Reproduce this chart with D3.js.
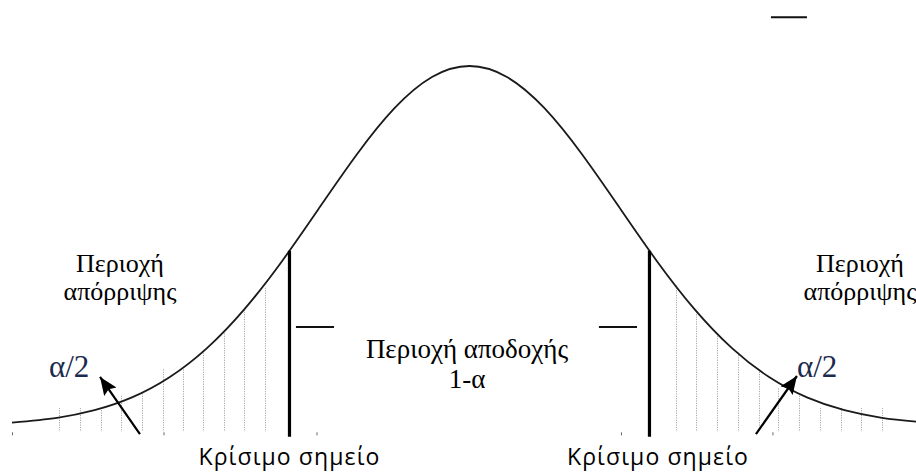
<!DOCTYPE html>
<html>
<head>
<meta charset="utf-8">
<script src="https://cdn.jsdelivr.net/npm/d3@7"></script>
<style>
  body { margin: 0; background: #fff; }
  svg { display: block; }
</style>
</head>
<body>
<svg id="chart" width="916" height="472"></svg>
<script>
// Standard normal density, sampled along z
const curveZ = [-3.05, -2.75, -2.5, -2.25, -2.0, -1.75, -1.5, -1.25, -1.0, -0.75, -0.5, -0.25,
                0, 0.25, 0.5, 0.75, 1.0, 1.25, 1.5, 1.75, 2.0, 2.25, 2.5, 2.75, 3.0];
const curveDensity = [0.0038, 0.0091, 0.0175, 0.0317, 0.0540, 0.0863, 0.1295, 0.1826, 0.2420, 0.3011, 0.3521, 0.3867,
                      0.3989, 0.3867, 0.3521, 0.3011, 0.2420, 0.1826, 0.1295, 0.0863, 0.0540, 0.0317, 0.0175, 0.0091, 0.0044];

// Critical points (two-sided test) and the density height there
const criticalZ = [-1.2, 1.2];
const criticalDensity = [0.1942, 0.1942];
const criticalFoot = -0.012;

// Hatching of the rejection regions
const leftHatchZ   = [-2.737, -2.597, -2.457, -2.323, -2.183, -2.043, -1.910, -1.777, -1.637, -1.503, -1.363];
const leftHatchTop = [0.020, 0.020, 0.020, 0.034, 0.038, 0.064, 0.064, 0.084, 0.104, 0.131, 0.154];
const rightHatchZ   = [1.377, 1.513, 1.653, 1.787, 1.927, 2.060, 2.200, 2.337, 2.477, 2.607, 2.747];
const rightHatchTop = [0.156, 0.126, 0.103, 0.082, 0.064, 0.042, 0.034, 0.020, 0.020, 0.020, 0.020];
const hatchFoot = -0.005;

// Small ticks along the base line
const tickZ = [-3.05, -2.04, -1.02, 1.01, 2.02];

// Arrows pointing at the tail areas: [tailZ, tailDensity, tipZ, tipDensity]
const arrows = [
  [-2.197, -0.0089, -2.463, 0.0543],
  [1.910, -0.0089, 2.183, 0.0554]
];

// Short marks beside the acceptance label: [z0, z1, density]
const marks = [
  [-1.157, -0.903, 0.1097],
  [0.863, 1.117, 0.1097],
  [2.010, 2.250, 0.4530]
];

// Texts
const rejectLines = ["Περιοχή", "απόρριψης"];
const acceptLines = ["Περιοχή αποδοχής", "1-α"];
const tailLabel = "α/2";
const criticalLabel = "Κρίσιμο σημείο";

const W = 916, H = 472;
const svg = d3.select("#chart");

const x = d3.scaleLinear().domain([-3.13, 2.977]).range([0, W]);
const y = d3.scaleLinear().domain([0, 0.4]).range([426, 65]);

const SERIF = "'Liberation Serif', 'Times New Roman', serif";
const SANS = "'Open Sans', 'Noto Sans', sans-serif";

// hatching
const hatch = svg.append("g").attr("stroke", "#a8a8a8").attr("stroke-width", 1)
  .attr("stroke-dasharray", "1.2,1.2");
[[leftHatchZ, leftHatchTop], [rightHatchZ, rightHatchTop]].forEach(([zs, tops]) => {
  hatch.selectAll(null).data(zs.map((z, i) => [z, tops[i]])).join("line")
    .attr("x1", d => Math.round(x(d[0])) + 0.5).attr("x2", d => Math.round(x(d[0])) + 0.5)
    .attr("y1", y(hatchFoot)).attr("y2", d => y(d[1]));
});

// base ticks
const axis = d3.axisBottom(x).tickValues(tickZ).tickSize(3).tickFormat("");
const axisG = svg.append("g").attr("transform", `translate(0,${y(-0.007)})`).call(axis);
axisG.select(".domain").remove();
axisG.selectAll(".tick line").attr("stroke", "#666");

// density curve
const line = d3.line().x(d => x(d[0])).y(d => y(d[1])).curve(d3.curveNatural);
svg.append("path")
  .datum(curveZ.map((z, i) => [z, curveDensity[i]]))
  .attr("d", line)
  .attr("fill", "none").attr("stroke", "#1a1a1a").attr("stroke-width", 1.8);

// critical lines
svg.selectAll(null).data(criticalZ.map((z, i) => [z, criticalDensity[i]])).join("line")
  .attr("x1", d => x(d[0])).attr("x2", d => x(d[0]))
  .attr("y1", y(criticalFoot)).attr("y2", d => y(d[1]))
  .attr("stroke", "#000").attr("stroke-width", 3.2);

// short marks
svg.selectAll(null).data(marks).join("line")
  .attr("x1", d => x(d[0])).attr("x2", d => x(d[1]))
  .attr("y1", d => y(d[2])).attr("y2", d => y(d[2]))
  .attr("stroke", "#111").attr("stroke-width", 2);

// arrows
svg.append("defs").append("marker")
  .attr("id", "head").attr("markerUnits", "userSpaceOnUse")
  .attr("markerWidth", 20).attr("markerHeight", 16)
  .attr("refX", 18).attr("refY", 7.5).attr("orient", "auto")
  .append("path").attr("d", "M0,0 L18,7.5 L0,15 L3,7.5 Z").attr("fill", "#000");
svg.selectAll(null).data(arrows).join("line")
  .attr("x1", d => x(d[0])).attr("y1", d => y(d[1]))
  .attr("x2", d => x(d[2])).attr("y2", d => y(d[3]))
  .attr("stroke", "#000").attr("stroke-width", 2.2)
  .attr("marker-end", "url(#head)");

// texts
function lines(xc, baselines, texts, size, font, fill) {
  texts.forEach((t, i) => {
    svg.append("text").attr("x", xc).attr("y", baselines[i])
      .attr("text-anchor", "middle").attr("font-family", font)
      .attr("font-size", size).attr("fill", fill || "#000").text(t);
  });
}
lines(120, [272, 300], rejectLines, 26, SERIF);
lines(860, [272, 300], rejectLines, 26, SERIF);
lines(467, [358, 388], acceptLines, 27, SERIF);

svg.append("text").attr("x", 49).attr("y", 377).attr("font-family", SERIF)
  .attr("font-size", 31).attr("fill", "#1b2a4e").text(tailLabel);
svg.append("text").attr("x", 797).attr("y", 377).attr("font-family", SERIF)
  .attr("font-size", 31).attr("fill", "#1b2a4e").text(tailLabel);

svg.append("text").attr("x", x(criticalZ[0])).attr("y", 465).attr("text-anchor", "middle")
  .attr("font-family", SANS).attr("font-size", 23).attr("letter-spacing", 1.1).text(criticalLabel);
svg.append("text").attr("x", 658).attr("y", 465).attr("text-anchor", "middle")
  .attr("font-family", SANS).attr("font-size", 23).attr("letter-spacing", 1.1).text(criticalLabel);
</script>
</body>
</html>
